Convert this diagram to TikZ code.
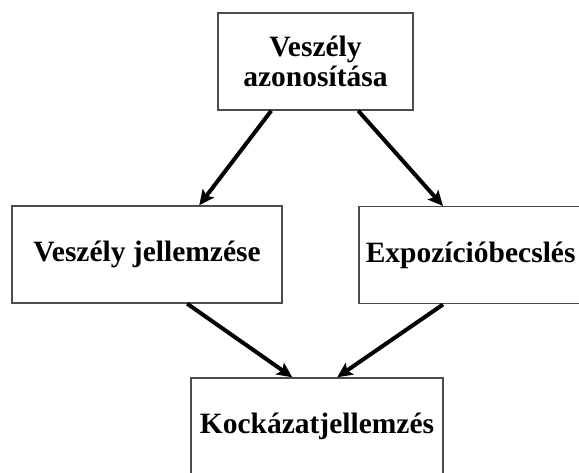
\documentclass[tikz,border=0pt]{standalone}
\usepackage{fontspec}
\setmainfont{Liberation Serif}
\usetikzlibrary{arrows.meta}
\tikzset{
  box/.style={draw=black!70, line width=1.5pt, fill=white, inner sep=0pt,
    font=\fontsize{29.5}{30}\selectfont\bfseries, align=center},
  arr/.style={line width=4pt, draw=black, -{Stealth[length=15pt,width=14pt,inset=3pt]}, shorten >=0pt}
}
\begin{document}
\begin{tikzpicture}[x=1pt,y=-1pt]
\useasboundingbox (0,0) rectangle (579,473);
\fill[white] (0,0) rectangle (579,473);
\clip (0,0) rectangle (579,473);
\node[box, minimum width=195pt, minimum height=97pt] (top) at (315.5,61.5) {Veszély\\azonosítása};
\node[box, minimum width=270pt, minimum height=97pt] (left) at (147,254.5) {Veszély jellemzése};
\node[box, minimum width=270pt, minimum height=97pt, anchor=north west,
      text width=256pt, align=left, inner xsep=7pt] (right) at (358,206) {Expozícióbecslés};
\node[box, minimum width=252pt, minimum height=97pt] (bottom) at (317,426.5) {Kockázatjellemzés};
\draw[arr] ([xshift=54pt]top.south west) -- ([xshift=188pt]left.north west);
\draw[arr] ([xshift=141pt]top.south west) -- ([xshift=85pt]right.north west);
\draw[arr] ([xshift=176pt]left.south west) -- ([xshift=102pt]bottom.north west);
\draw[arr] ([xshift=85pt]right.south west) -- ([xshift=147pt]bottom.north west);
\end{tikzpicture}
\end{document}
